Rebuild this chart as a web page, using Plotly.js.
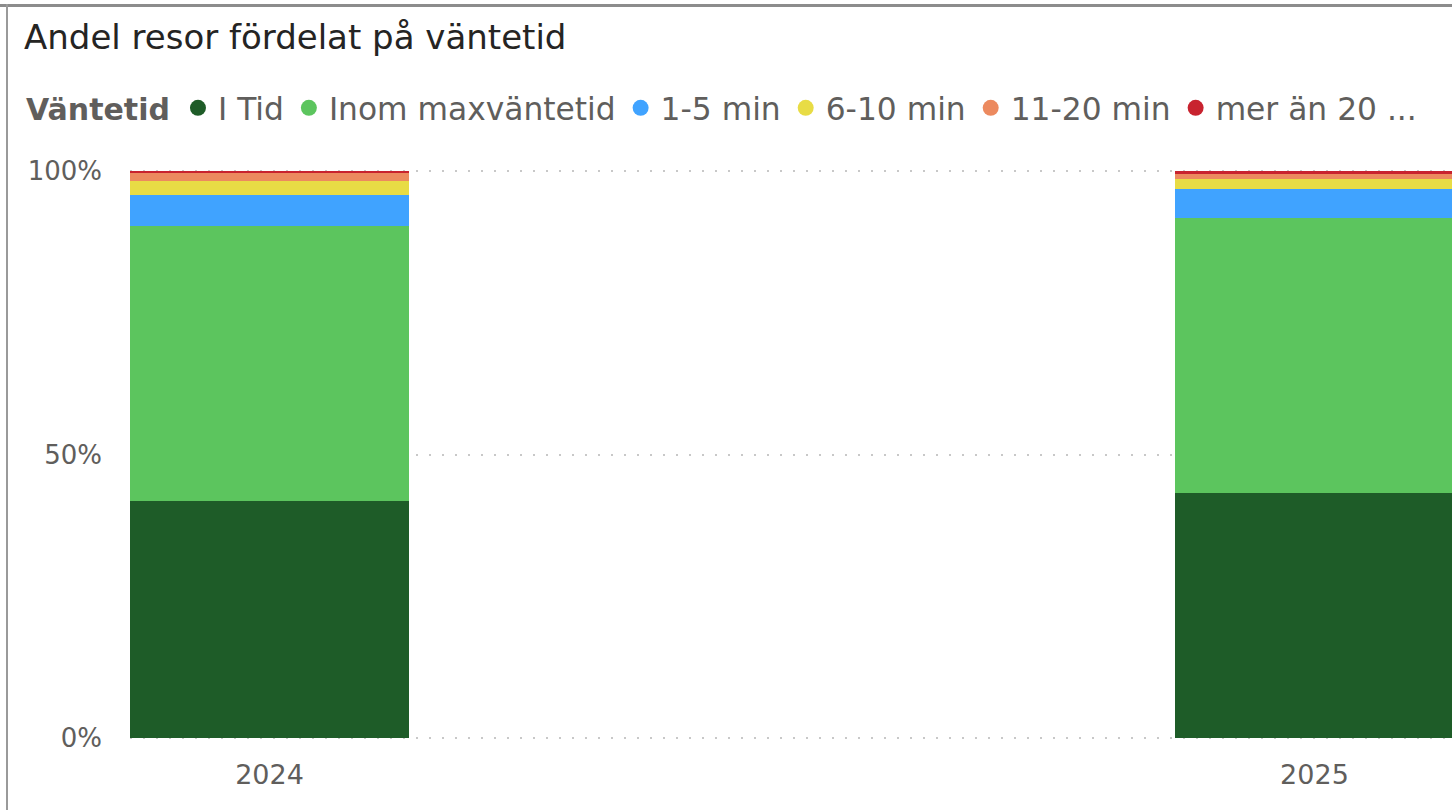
<!DOCTYPE html>
<html>
<head>
<meta charset="utf-8">
<script src="https://cdn.plot.ly/plotly-3.0.1.min.js"></script>
<style>
  html, body { margin: 0; padding: 0; background: #ffffff; }
  #wrap { position: relative; width: 1452px; height: 810px; overflow: hidden; }
  #chart { width: 1452px; height: 810px; }
  #bt { position: absolute; left: 0; top: 4px; width: 1452px; height: 3px; background: #8c8c8c; }
  #bl { position: absolute; left: 6px; top: 4px; width: 2px; height: 806px; background: #9a9a9a; }
</style>
</head>
<body>
<div id="wrap">
  <div id="chart"></div>
  <div id="bt"></div>
  <div id="bl"></div>
</div>
<script>
const chartTitle = "Andel resor fördelat på väntetid";
const legendTitle = "Väntetid";
const years = ["2024", "2025"];
const seriesNames = ["I Tid", "Inom maxväntetid", "1-5 min", "6-10 min", "11-20 min", "mer än 20 ..."];
const iTid        = [41.8, 43.2];
const inomMax     = [48.4, 48.5];
const min1to5     = [5.6, 5.0];
const min6to10    = [2.4, 1.8];
const min11to20   = [1.4, 1.0];
const over20      = [0.4, 0.5];
const yTickVals   = [0, 50, 100];
const yTickText   = ["0%", "50%", "100%"];
const colors = ["#1e5c28", "#5cc55e", "#40a3ff", "#e8dc45", "#ec8a5f", "#c8232f"];

const seriesValues = [iTid, inomMax, min1to5, min6to10, min11to20, over20];
const FONT = "'DejaVu Sans', Roboto, sans-serif";

const traces = [];
seriesValues.forEach((vals, i) => {
  traces.push({
    type: "bar",
    x: years,
    y: vals,
    name: seriesNames[i],
    marker: { color: colors[i], line: { width: 0 } },
    showlegend: false,
    legendgroup: "g" + i,
    hoverinfo: "x+y+name"
  });
});
seriesValues.forEach((vals, i) => {
  traces.push({
    type: "scatter",
    mode: "markers",
    x: [null],
    y: [null],
    name: seriesNames[i],
    legendgroup: "g" + i,
    marker: { color: colors[i], size: 16, symbol: "circle" },
    showlegend: true
  });
});

const layout = {
  width: 1452,
  height: 810,
  paper_bgcolor: "#ffffff",
  plot_bgcolor: "#ffffff",
  margin: { l: 130, r: 0, t: 168.5, b: 70, pad: 0 },
  barmode: "stack",
  bargap: 0.733,
  font: { family: FONT, color: "#605e5c", size: 28 },
  title: {
    text: chartTitle,
    font: { family: FONT, size: 34, color: "#252423" },
    x: 24 / 1452, xref: "container", xanchor: "left",
    y: 1 - 37 / 810, yref: "container", yanchor: "middle"
  },
  showlegend: true,
  legend: {
    orientation: "h",
    xref: "container", yref: "container",
    x: 24 / 1452, xanchor: "left",
    y: 1 - 108 / 810, yanchor: "middle",
    title: { text: "<b>" + legendTitle + "</b>", side: "left", font: { family: FONT, size: 30, color: "#605e5c" } },
    font: { family: FONT, size: 31.3, color: "#605e5c" },
    itemwidth: 30,
    tracegroupgap: 0,
    bgcolor: "rgba(0,0,0,0)"
  },
  xaxis: {
    type: "category",
    range: [-0.1335, 1.1316],
    showgrid: false,
    zeroline: false,
    showline: false,
    ticks: "",
    ticklabelstandoff: 16,
    tickfont: { family: FONT, size: 27, color: "#605e5c" },
    fixedrange: true
  },
  yaxis: {
    range: [-0.3, 100.3],
    tickvals: yTickVals,
    ticktext: yTickText,
    showgrid: true,
    gridcolor: "#c8c8c8",
    gridwidth: 2,
    griddash: "2px,11px",
    zeroline: false,
    showline: false,
    ticks: "",
    ticklabelstandoff: 27,
    tickfont: { family: FONT, size: 26, color: "#605e5c" },
    fixedrange: true
  }
};

Plotly.newPlot("chart", traces, layout, { displayModeBar: false, staticPlot: true });
</script>
</body>
</html>
